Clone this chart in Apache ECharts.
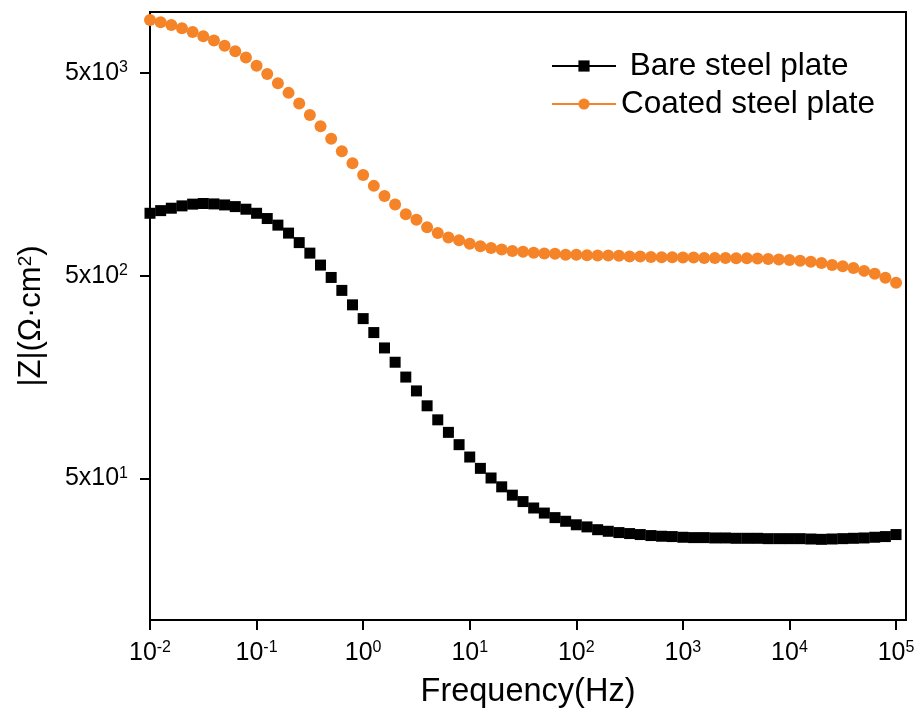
<!DOCTYPE html>
<html>
<head>
<meta charset="utf-8">
<script src="https://cdn.jsdelivr.net/npm/echarts@6/dist/echarts.min.js"></script>
<style>
html,body{margin:0;padding:0;background:#fff;}
#chart{width:919px;height:720px;}
</style>
</head>
<body>
<div id="chart"></div>
<script>
// Frequency (Hz), 10 points per decade
const frequency = [
  0.01,0.01259,0.01585,0.01995,0.02512,0.03162,0.03981,0.05012,0.0631,0.07943,
  0.1,0.1259,0.1585,0.1995,0.2512,0.3162,0.3981,0.5012,0.631,0.7943,
  1,1.259,1.585,1.995,2.512,3.162,3.981,5.012,6.31,7.943,
  10,12.59,15.85,19.95,25.12,31.62,39.81,50.12,63.1,79.43,
  100,125.9,158.5,199.5,251.2,316.2,398.1,501.2,631,794.3,
  1000,1259,1585,1995,2512,3162,3981,5012,6310,7943,
  10000,12590,15850,19950,25120,31620,39810,50120,63100,79430,
  100000
];
// |Z| (Ohm·cm2)
const bareSteel = [
  1016,1047,1076,1105,1127,1135,1130,1117,1096,1064,
  1016,957,888,811,728,646,564,490,423,359,
  307,262,220,187,158,135,114,97.2,84.3,73.3,
  63.7,56.0,50.2,45.4,41.3,38.4,35.7,33.7,32.0,30.7,
  29.5,28.8,27.9,27.4,27.0,26.7,26.4,26.1,25.9,25.8,
  25.6,25.5,25.5,25.4,25.4,25.3,25.3,25.3,25.2,25.2,
  25.2,25.2,25.1,25.0,25.1,25.2,25.3,25.4,25.6,25.8,
  26.4
];
const coatedSteel = [
  9141,8892,8630,8318,7962,7586,7228,6823,6397,5957,
  5433,4943,4446,3990,3532,3105,2729,2371,2056,1795,
  1570,1387,1236,1122,1005,945,866,811,771,748,
  718,698,684,673,662,656,649,643,641,635,
  634,631,628,628,627,622,621,619,617,617,
  614,614,612,612,612,610,610,608,604,601,
  597,592,585,577,565,557,545,528,511,488,
  462
];
const seriesNames = ['Bare steel plate', 'Coated steel plate'];
const xTickValues = [0.01, 0.1, 1, 10, 100, 1000, 10000, 100000];
const yTickValues = [50, 500, 5000];

const FONT = 'Liberation Sans, Arial, sans-serif';
const supStyle = {fontSize: 16, fontFamily: FONT, color: '#000', verticalAlign: 'top', padding: [0, 0, 10, 0]};
const mainStyle = {fontSize: 25, fontFamily: FONT, color: '#000'};

const chart = echarts.init(document.getElementById('chart'), null, {renderer: 'canvas'});
const pairs = arr => frequency.map((f, i) => [f, arr[i]]);

chart.setOption({
  animation: false,
  backgroundColor: '#fff',
  grid: {left: 150, right: 13, top: 12, bottom: 100, show: true, borderColor: '#000', borderWidth: 2, containLabel: false},
  legend: {
    orient: 'vertical', left: 546, top: 45,
    itemWidth: 64, itemHeight: 14, itemGap: 6,
    data: seriesNames,
    formatter: n => (n === seriesNames[0] ? ' ' + n : n),
    textStyle: {fontSize: 31.5, fontFamily: FONT, color: '#000', padding: [0, 0, 0, 0]},
    lineStyle: {opacity: 1, width: 2}
  },
  xAxis: {
    type: 'log', logBase: 10, min: 0.01, max: 124000,
    name: 'Frequency(Hz)', nameLocation: 'middle', nameGap: 56,
    nameTextStyle: {fontSize: 32.5, fontFamily: FONT, color: '#000'},
    axisLine: {lineStyle: {color: '#000', width: 2}},
    axisTick: {show: true, inside: false, length: 10, lineStyle: {color: '#000', width: 2}, customValues: xTickValues},
    minorTick: {show: false},
    splitLine: {show: false},
    axisLabel: {
      customValues: xTickValues, margin: 20,
      formatter: v => '{m|10}{sup|' + Math.round(Math.log10(v)) + '}',
      rich: {m: mainStyle, sup: supStyle}
    }
  },
  yAxis: {
    type: 'log', logBase: 10, min: 10, max: 10000,
    name: '{m||Z|(Ω·cm}{sup|2}{m|)}', nameLocation: 'middle', nameGap: 103, nameRotate: 90,
    nameTextStyle: {fontSize: 31, fontFamily: FONT, color: '#000',
      rich: {m: {fontSize: 31, fontFamily: FONT, color: '#000'}, sup: {fontSize: 19, fontFamily: FONT, color: '#000', verticalAlign: 'top', padding: [0, 0, 12, 0]}}},
    axisLine: {lineStyle: {color: '#000', width: 2}},
    axisTick: {show: true, inside: false, length: 10, lineStyle: {color: '#000', width: 2}, customValues: yTickValues},
    minorTick: {show: false},
    splitLine: {show: false},
    axisLabel: {
      customValues: yTickValues, margin: 22,
      formatter: v => '{m|5x10}{sup|' + Math.round(Math.log10(v / 5)) + '}',
      rich: {m: mainStyle, sup: supStyle}
    }
  },
  series: [
    {
      name: seriesNames[0], type: 'line', data: pairs(bareSteel),
      symbol: 'rect', symbolSize: 11, clip: false,
      itemStyle: {color: '#000'},
      lineStyle: {color: '#000', opacity: 0}
    },
    {
      name: seriesNames[1], type: 'line', data: pairs(coatedSteel),
      symbol: 'circle', symbolSize: 12, clip: false,
      itemStyle: {color: '#F58428'},
      lineStyle: {color: '#F58428', opacity: 0}
    }
  ]
});
</script>
</body>
</html>
